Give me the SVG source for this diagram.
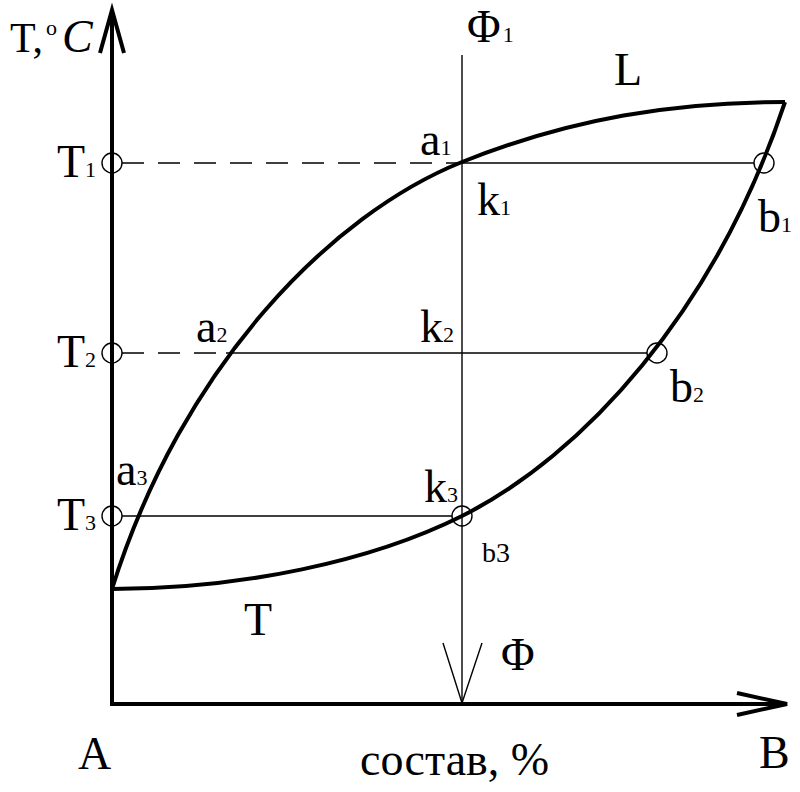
<svg xmlns="http://www.w3.org/2000/svg" width="800" height="792" viewBox="0 0 800 792">
<style>
.thick{fill:none;stroke:#000;stroke-width:4;stroke-linejoin:miter;stroke-linecap:butt}
.thin{fill:none;stroke:#000;stroke-width:1.4}
.dash{fill:none;stroke:#000;stroke-width:1.4;stroke-dasharray:22 14}
.pt{fill:none;stroke:#000;stroke-width:1.4}
text{font-family:"Liberation Serif","Times New Roman",serif;fill:#000}
.lb{font-size:46px}
.sb{font-size:22px}
</style>
<rect width="800" height="792" fill="#fff"/>
<g id="connectors">
  <polyline class="thick" points="112,704 112,10"/>
  <polyline class="thick" points="100,53 112,10 124,53"/>
  <polyline class="thick" points="110,704 787,704"/>
  <polyline class="thick" points="737,693 787,704 737,715"/>
  <line class="thin" x1="462" y1="55" x2="462" y2="704"/>
  <polyline class="thin" points="443,643 462,703 482,643"/>
  <line class="dash" x1="122" y1="163" x2="462" y2="163"/>
  <line class="thin" x1="462" y1="163" x2="754" y2="163"/>
  <line class="dash" x1="122" y1="353" x2="226" y2="353"/>
  <line class="thin" x1="226" y1="353" x2="647" y2="353"/>
  <line class="thin" x1="122" y1="516" x2="452" y2="516"/>
  <path class="thick" d="M112,589 C182,365 332,214 462,162 C572,118 675,102 785,102"/>
  <path class="thick" d="M112,589 C242,589 372,561 462,516 C582,456 715,312 785,102"/>
</g>
<g id="axis-labels">
  <text style="font-size:42px" x="10" y="52">T,</text>
  <text style="font-size:22px" x="46" y="35">o</text>
  <text class="lb" x="62" y="52" font-style="italic">C</text>
  <text class="lb" x="78" y="769">A</text>
  <text class="lb" x="759" y="768">B</text>
  <text class="lb" x="360" y="775">состав, %</text>
</g>
<g id="phi1"><text class="lb" x="467" y="42">Φ<tspan class="sb" dx="2">1</tspan></text></g>
<g id="phi"><text class="lb" x="501" y="670">Φ</text></g>
<g id="L"><text class="lb" x="614" y="85">L</text></g>
<g id="Tphase"><text class="lb" x="244" y="635">T</text></g>
<g id="T1"><circle class="pt" cx="112" cy="163" r="10"/><text class="lb" x="57" y="177">T<tspan class="sb">1</tspan></text></g>
<g id="T2"><circle class="pt" cx="112" cy="353" r="10"/><text class="lb" x="57" y="367">T<tspan class="sb">2</tspan></text></g>
<g id="T3"><circle class="pt" cx="112" cy="516" r="10"/><text class="lb" x="57" y="530">T<tspan class="sb">3</tspan></text></g>
<g id="a1"><text class="lb" x="420" y="155">a<tspan class="sb">1</tspan></text></g>
<g id="a2"><text class="lb" x="196" y="342">a<tspan class="sb">2</tspan></text></g>
<g id="a3"><text class="lb" x="116" y="485">a<tspan class="sb">3</tspan></text></g>
<g id="k1"><text class="lb" x="477" y="215">k<tspan class="sb">1</tspan></text></g>
<g id="k2"><text class="lb" x="420" y="342">k<tspan class="sb">2</tspan></text></g>
<g id="k3"><text class="lb" x="424" y="502">k<tspan class="sb">3</tspan></text></g>
<g id="b1"><circle class="pt" cx="764" cy="163" r="10"/><text class="lb" x="758" y="232">b<tspan class="sb">1</tspan></text></g>
<g id="b2"><circle class="pt" cx="657" cy="353" r="10"/><text class="lb" x="670" y="402">b<tspan class="sb">2</tspan></text></g>
<g id="b3"><circle class="pt" cx="462" cy="516" r="10"/><text style="font-size:28px" x="482" y="562">b3</text></g>
</svg>
